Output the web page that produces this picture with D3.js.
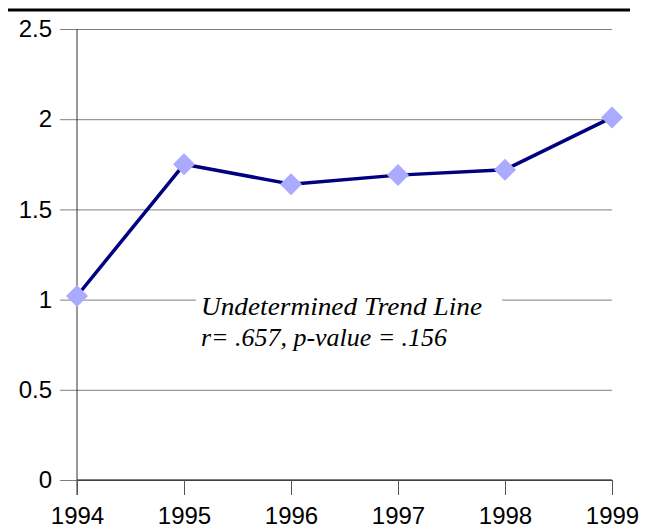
<!DOCTYPE html>
<html>
<head>
<meta charset="utf-8">
<script src="https://cdn.jsdelivr.net/npm/d3@7"></script>
<style>
  body { margin: 0; background: #fff; }
  svg { display: block; }
</style>
</head>
<body>
<div id="chart"></div>
<script>
// data
const years = ["1994", "1995", "1996", "1997", "1998", "1999"];
const values = [1.02, 1.75, 1.64, 1.69, 1.72, 2.01];
const yTicks = [0, 0.5, 1, 1.5, 2, 2.5];
const noteLines = ["Undetermined Trend Line", "r= .657, p-value = .156"];
const noteWidths = [281, 246];

const width = 654, height = 531;
const margin = { top: 29, right: 42, bottom: 51, left: 77 };

const svg = d3.select("#chart").append("svg")
  .attr("width", width)
  .attr("height", height);

// heavy rule on top
svg.append("line")
  .attr("x1", 8).attr("x2", 630)
  .attr("y1", 10).attr("y2", 10)
  .attr("stroke", "#000").attr("stroke-width", 3);

const x = d3.scalePoint()
  .domain(years)
  .range([margin.left, width - margin.right]);

const y = d3.scaleLinear()
  .domain([0, 2.5])
  .range([height - margin.bottom, margin.top]);

// gridlines + left ticks
const yAxis = svg.append("g")
  .attr("transform", `translate(${margin.left},0)`)
  .call(d3.axisLeft(y)
    .tickValues(yTicks)
    .tickFormat(d3.format("~g"))
    .tickSize(17)
    .tickPadding(8));
yAxis.select(".domain").remove();
yAxis.selectAll(".tick line")
  .attr("x1", -17)
  .attr("x2", width - margin.right - margin.left)
  .attr("stroke", "#808080");
yAxis.selectAll(".tick text")
  .attr("font-family", "Liberation Sans, Arial, sans-serif")
  .attr("font-size", 24)
  .attr("fill", "#000");

// y axis line
svg.append("line")
  .attr("x1", margin.left).attr("x2", margin.left)
  .attr("y1", y(2.5)).attr("y2", y(0) + 15)
  .attr("stroke", "#333");

// x axis
const xAxis = svg.append("g")
  .attr("transform", `translate(0,${y(0)})`)
  .call(d3.axisBottom(x).tickSize(15).tickPadding(12).tickSizeOuter(0));
xAxis.select(".domain")
  .attr("d", `M${x(years[0])},0H${x(years[years.length - 1])}`)
  .attr("stroke", "#000");
xAxis.selectAll(".tick line").attr("stroke", "#555");
xAxis.selectAll(".tick text")
  .attr("font-family", "Liberation Sans, Arial, sans-serif")
  .attr("font-size", 24)
  .attr("fill", "#000");

// annotation box (covers the gridline)
const note = svg.append("g");
note.append("rect")
  .attr("x", 196).attr("y", y(1) - 11)
  .attr("width", 306).attr("height", 72)
  .attr("fill", "#fff");
note.selectAll("text")
  .data(noteLines)
  .join("text")
  .attr("x", 201)
  .attr("y", (d, i) => y(1) + 15 + i * 31)
  .attr("font-family", "Liberation Serif, Times New Roman, serif")
  .attr("font-style", "italic")
  .attr("font-size", 26)
  .attr("textLength", (d, i) => noteWidths[i])
  .attr("lengthAdjust", "spacingAndGlyphs")
  .attr("fill", "#000")
  .text(d => d);

// series line
const line = d3.line()
  .x((d, i) => x(years[i]))
  .y(d => y(d));

svg.append("path")
  .datum(values)
  .attr("d", line)
  .attr("fill", "none")
  .attr("stroke", "#000080")
  .attr("stroke-width", 3.5)
  .attr("stroke-linejoin", "round");

// diamond markers
svg.selectAll(".marker")
  .data(values)
  .join("path")
  .attr("class", "marker")
  .attr("transform", (d, i) => `translate(${x(years[i])},${y(d)})`)
  .attr("d", "M0,-11L11,0L0,11L-11,0Z")
  .attr("fill", "#aaaaff");
</script>
</body>
</html>
